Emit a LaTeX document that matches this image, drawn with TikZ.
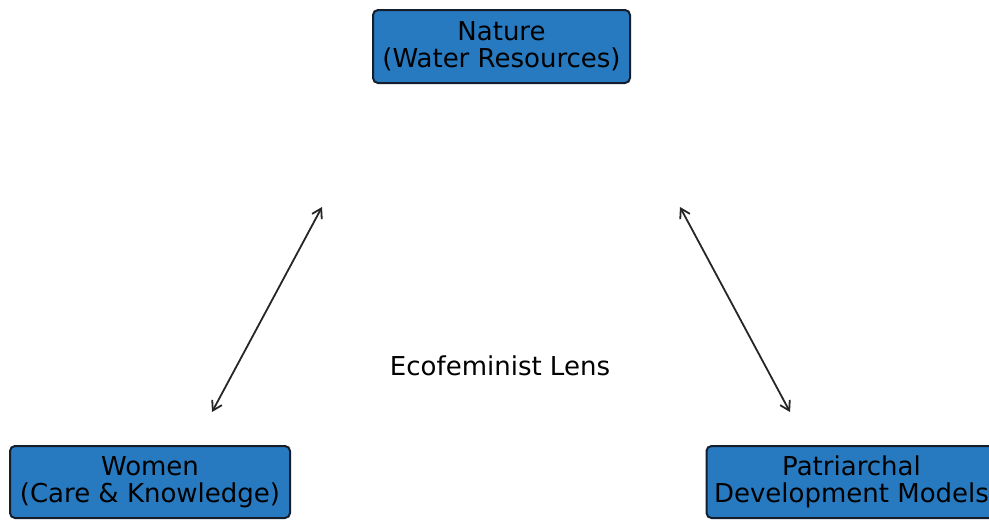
\documentclass[tikz,border=0pt]{standalone}
\usepackage{fontspec}
\setmainfont{DejaVu Sans}
\usetikzlibrary{arrows.meta}
\definecolor{boxblue}{RGB}{40,122,192}
\definecolor{boxedge}{RGB}{20,30,45}
\tikzset{
    conceptbox/.style={draw=boxedge, line width=1pt, fill=boxblue, rounded corners=2.5pt,
        align=center, font=\fontsize{13}{13.5}\selectfont, inner sep=0pt},
    link/.style={{Straight Barb[length=4.5pt,width=5.5pt]}-{Straight Barb[length=4.5pt,width=5.5pt]}, line width=0.9pt, draw=black!85}
}
\begin{document}
\begin{tikzpicture}[x=0.5pt, y=-0.5pt]
        \useasboundingbox (0,0) rectangle (989,520);
        % Nodes
        \node[conceptbox, minimum width=128.5pt, minimum height=36.5pt] (nature) at (501.5,46.5) {Nature\\(Water Resources)};
        \node[conceptbox, minimum width=140pt, minimum height=36pt] (women) at (150,482) {Women\\(Care \& Knowledge)};
        \node[conceptbox, minimum width=145pt, minimum height=36pt] (patriarchy) at (851.5,482) {Patriarchal\\Development Models};
        \node[font=\fontsize{13}{13.5}\selectfont] (lens) at (500,366) {Ecofeminist Lens};
        % Arrow ends
        \coordinate (womenend) at (212,412);
        \coordinate (natureleft) at (322,207);
        \coordinate (natureright) at (680,207);
        \coordinate (patriarchyend) at (790,412);
        % Arrows
        \draw[link] (womenend) -- (natureleft);
        \draw[link] (natureright) -- (patriarchyend);
    \end{tikzpicture}
\end{document}
